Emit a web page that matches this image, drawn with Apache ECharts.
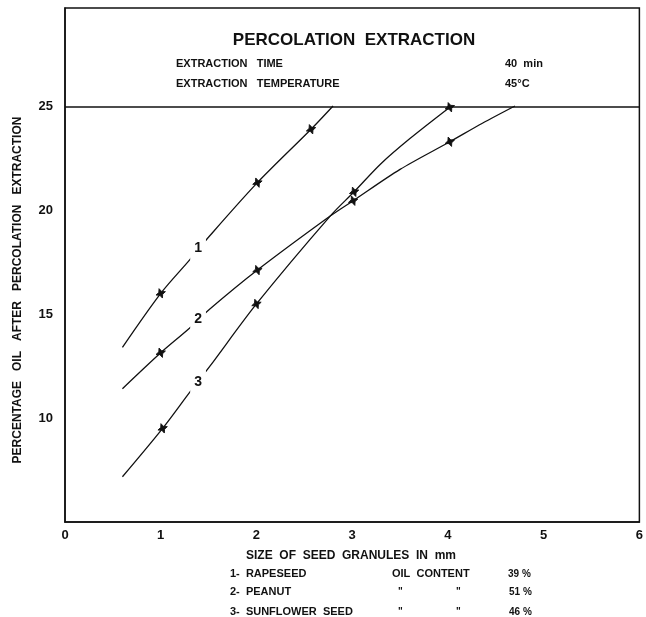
<!DOCTYPE html>
<html>
<head>
<meta charset="utf-8">
<script src="https://cdn.jsdelivr.net/npm/echarts@6/dist/echarts.min.js"></script>
<style>html,body{margin:0;padding:0;background:#fff}#c{width:646px;height:617px}</style>
</head>
<body>
<div id="c"></div>
<script>
// ---- data ----
const xTicks = [0, 1, 2, 3, 4, 5, 6];
const yTicks = [10, 15, 20, 25];
const curveNames = ['1- RAPESEED', '2- PEANUT', '3- SUNFLOWER SEED'];
const curveLabels = ['1', '2', '3'];
const oilContent = ['39 %', '51 %', '46 %'];

// traced curves [size mm, % oil]
const rapeseedCurve = [[0.60,13.41],[1.00,16.01],[1.30,17.61],[1.51,18.77],[2.01,21.34],[2.57,23.91],[2.80,25.03]];
const peanutCurve = [[0.60,11.42],[1.00,13.15],[1.30,14.33],[1.51,15.24],[2.01,17.13],[2.77,19.73],[3.01,20.47],[3.50,21.98],[4.02,23.31],[4.36,24.20],[4.70,25.03]];
const sunflowerCurve = [[0.60,7.18],[1.02,9.51],[1.30,11.23],[1.51,12.48],[2.00,15.50],[2.77,19.73],[3.02,20.90],[3.30,22.25],[3.60,23.45],[4.02,24.97]];

// measured points (star markers)
const rapeseedPoints = [[1.00,16.01],[2.01,21.34],[2.57,23.91]];
const peanutPoints = [[1.00,13.15],[2.01,17.13],[3.01,20.47],[4.02,23.31]];
const sunflowerPoints = [[1.02,9.51],[2.00,15.50],[3.02,20.90],[4.02,24.97]];

// curve number label positions
const labelPoints = [[1.39,18.19],[1.39,14.77],[1.39,11.74]];

const headerLimit = 25;

// ---- chart ----
const FONT = '"Liberation Sans", Arial, sans-serif';
const chart = echarts.init(document.getElementById('c'));
const star = 'path://M0,-10 L3,-3 L10,0 L3,3 L0,10 L-3,3 L-10,0 L-3,-3 Z';

const curves = [rapeseedCurve, peanutCurve, sunflowerCurve];
const points = [rapeseedPoints, peanutPoints, sunflowerPoints];

const series = [];
curves.forEach((c, i) => {
  series.push({
    name: curveNames[i], type: 'line', data: c, smooth: 0.3, showSymbol: false,
    lineStyle: {color: '#111', width: 1.3}, z: 2,
    markLine: i === 0 ? {
      silent: true, symbol: 'none', label: {show: false},
      lineStyle: {color: '#111', width: 1.6, type: 'solid'},
      data: [{yAxis: headerLimit}]
    } : undefined
  });
  series.push({
    type: 'scatter', data: points[i], symbol: star, symbolSize: 10, symbolRotate: 20,
    itemStyle: {color: '#111', opacity: 1, borderColor: '#111', borderWidth: 0.8}, z: 3
  });
});
series.push({
  type: 'scatter', data: labelPoints.map((p, i) => ({value: p, name: curveLabels[i]})),
  symbolSize: 0, z: 10, itemStyle: {opacity: 1},
  label: {
    show: true, position: 'inside', formatter: p => p.name,
    fontFamily: FONT, fontWeight: 'bold', fontSize: 14, color: '#111',
    backgroundColor: '#fff', padding: [6, 4]
  }
});

const txt = (x, y, s, size, align) => ({
  type: 'text', x: x, y: y,
  style: {text: s, fontFamily: FONT, fontWeight: 'bold', fontSize: size || 12,
          fill: '#111', align: align || 'left', verticalAlign: 'middle'}
});

chart.setOption({
  animation: false,
  backgroundColor: '#fff',
  grid: {left: 65, right: 6, top: 8, bottom: 95, show: true, borderColor: '#111', borderWidth: 1.5},
  xAxis: {
    type: 'value', min: 0, max: 6, interval: 1,
    axisLine: {lineStyle: {color: '#111', width: 1.5}},
    axisTick: {show: false}, splitLine: {show: false},
    axisLabel: {color: '#111', fontFamily: FONT, fontWeight: 'bold', fontSize: 13, margin: 7,
      formatter: v => xTicks.includes(v) ? String(v) : ''}
  },
  yAxis: {
    type: 'value', min: 5, max: 29.75, interval: 5,
    axisLine: {show: true, lineStyle: {color: '#111', width: 1.5}},
    axisTick: {show: false}, splitLine: {show: false},
    axisLabel: {color: '#111', fontFamily: FONT, fontWeight: 'bold', fontSize: 13, margin: 12,
      formatter: v => yTicks.includes(v) ? String(v) : ''}
  },
  series: series,
  graphic: [
    txt(354, 40, 'PERCOLATION  EXTRACTION', 17, 'center'),
    txt(176, 64, 'EXTRACTION   TIME', 11),
    txt(505, 64, '40  min', 11),
    txt(176, 84, 'EXTRACTION   TEMPERATURE', 11),
    txt(505, 84, '45°C', 11),
    {
      type: 'text', x: 18, y: 290, rotation: Math.PI / 2,
      style: {text: 'PERCENTAGE   OIL   AFTER   PERCOLATION   EXTRACTION', fontFamily: FONT,
              fontWeight: 'bold', fontSize: 12, fill: '#111', align: 'center', verticalAlign: 'middle'}
    },
    txt(246, 556, 'SIZE  OF  SEED  GRANULES  IN  mm', 12),
    txt(230, 574, curveNames[0].replace('- ', '-  '), 11),
    txt(392, 574, 'OIL  CONTENT', 11),
    txt(508, 574, oilContent[0], 10),
    txt(230, 592, curveNames[1].replace('- ', '-  '), 11),
    txt(398, 592, '"', 10), txt(456, 592, '"', 10),
    txt(509, 592, oilContent[1], 10),
    txt(230, 612, curveNames[2].replace('- ', '-  ').replace(' SEED', '  SEED'), 11),
    txt(398, 612, '"', 10), txt(456, 612, '"', 10),
    txt(509, 612, oilContent[2], 10)
  ]
});
</script>
</body>
</html>
